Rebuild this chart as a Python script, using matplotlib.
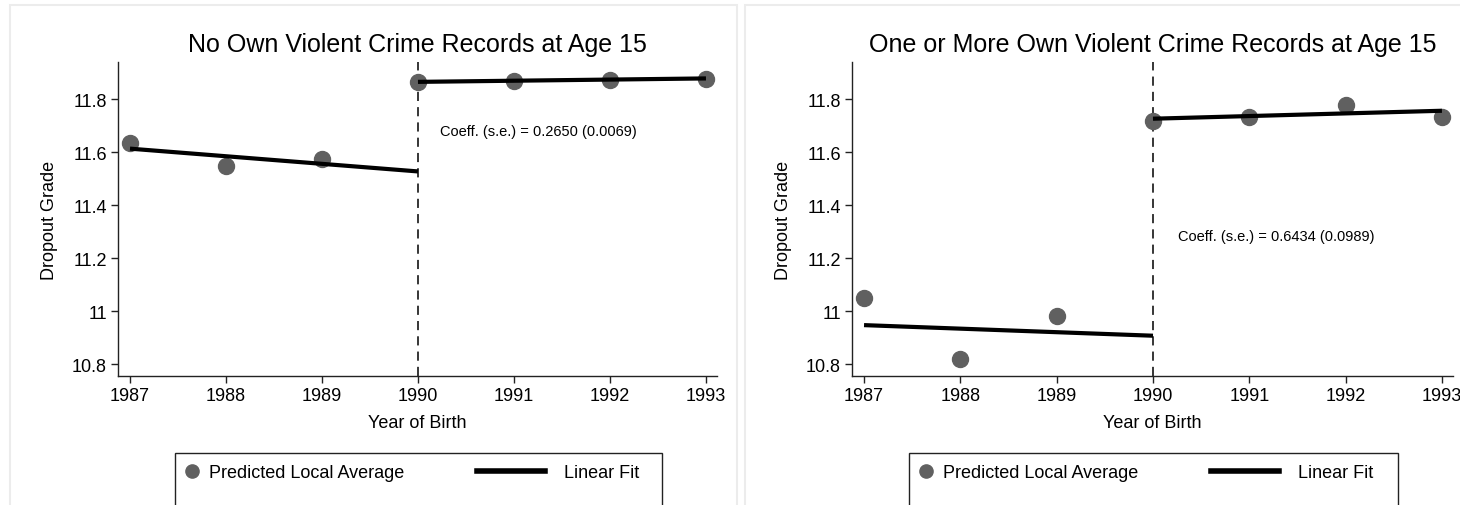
import matplotlib
matplotlib.use("Agg")
import matplotlib.pyplot as plt
from matplotlib.lines import Line2D
from matplotlib.patches import Rectangle
from matplotlib.ticker import FuncFormatter

plt.rcParams['font.family'] = ['Liberation Sans', 'DejaVu Sans']

# ---- data ----
years = [1987, 1988, 1989, 1990, 1991, 1992, 1993]
cutoff = 1990
titles = ["No Own Violent Crime Records at Age 15",
          "One or More Own Violent Crime Records at Age 15"]
local_avg_no = [11.633, 11.546, 11.574, 11.863, 11.869, 11.873, 11.876]
local_avg_yes = [11.048, 10.819, 10.982, 11.716, 11.731, 11.779, 11.733]
fit_pre_x = [1987, 1990]
fit_post_x = [1990, 1993]
fit_pre_no = [11.613, 11.527]
fit_post_no = [11.865, 11.878]
fit_pre_yes = [10.947, 10.907]
fit_post_yes = [11.726, 11.756]
coef_labels = ["Coeff. (s.e.) = 0.2650 (0.0069)",
               "Coeff. (s.e.) = 0.6434 (0.0989)"]
coef_pos = [(1990.23, 11.68), (1990.26, 11.284)]
yticks = [10.8, 11.0, 11.2, 11.4, 11.6, 11.8]
xticks = [1987, 1988, 1989, 1990, 1991, 1992, 1993]

W, H = 1460, 506
fig = plt.figure(figsize=(W / 100, H / 100), dpi=100)

# panel frames (light gray)
for (x0, x1) in [(10, 737), (745, 1475)]:
    fig.patches.append(Rectangle((x0 / W, -10 / H), (x1 - x0) / W, (H + 10 - 6) / H,
                                 transform=fig.transFigure, fill=False,
                                 edgecolor='#ececec', lw=1.5, zorder=0))

axes_px = [(118, 717), (852, 1453)]
ytop, ybot = 63, 377
panels = [(local_avg_no, fit_pre_no, fit_post_no),
          (local_avg_yes, fit_pre_yes, fit_post_yes)]

mcol = '#606060'


class MarkerRight:
    def legend_artist(self, legend, orig_handle, fontsize, handlebox):
        x0, y0 = handlebox.xdescent, handlebox.ydescent
        w, h = handlebox.width, handlebox.height
        ln = Line2D([x0 + w + 0.5], [y0 + h / 2], marker='o', ms=9.5, color=mcol,
                    linestyle='none', transform=handlebox.get_transform())
        handlebox.add_artist(ln)
        return ln


for i, (xl, xr) in enumerate(axes_px):
    ax = fig.add_axes([xl / W, 1 - ybot / H, (xr - xl) / W, (ybot - ytop) / H])
    avg, fpre, fpost = panels[i]
    ax.set_xlim(1986.875, 1993.115)
    ax.set_ylim(10.755, 11.94)
    ax.axvline(cutoff, color='black', lw=1.1, ls=(0, (6, 4)), zorder=1)
    ax.plot(years, avg, 'o', color=mcol, ms=11.5, zorder=2, clip_on=False)
    ax.plot(fit_pre_x, fpre, color='black', lw=3, zorder=3, solid_capstyle='butt')
    ax.plot(fit_post_x, fpost, color='black', lw=3, zorder=3, solid_capstyle='butt')
    for s in ['top', 'right']:
        ax.spines[s].set_visible(False)
    for s in ['left', 'bottom']:
        ax.spines[s].set_color('#222222')
        ax.spines[s].set_linewidth(1.0)
    ax.set_xticks(xticks)
    ax.set_yticks(yticks)
    ax.yaxis.set_major_formatter(FuncFormatter(lambda v, p: ('%g' % round(v, 1))))
    ax.tick_params(direction='out', length=5, width=1, color='#222222',
                   labelsize=13, pad=3)
    ax.set_xlabel('Year of Birth', fontsize=13, labelpad=7)
    ax.set_ylabel('Dropout Grade', fontsize=13, labelpad=10)
    ax.set_title(titles[i], fontsize=18, pad=8)
    ax.text(coef_pos[i][0], coef_pos[i][1], coef_labels[i], fontsize=10.5,
            ha='left', va='center')

    # legend box
    bx0 = (175 - 118) / 599
    bx1 = (662 - 118) / 599
    btop = (ybot - 454) / (ybot - ytop)
    ax.add_patch(Rectangle((bx0, btop - 1.0), bx1 - bx0, 1.0, transform=ax.transAxes,
                           fill=False, edgecolor='#222222', lw=1.0, clip_on=False))
    proxy_m = Line2D([], [], marker='o', color=mcol, linestyle='none')
    proxy_l = Line2D([], [], color='black', lw=4)
    ax.legend([proxy_m, proxy_l], ['Predicted Local Average', 'Linear Fit'],
              handler_map={proxy_m: MarkerRight()}, ncol=2, frameon=False,
              fontsize=13, handlelength=3.82, handletextpad=1.0,
              columnspacing=4.0, borderpad=0, borderaxespad=0,
              loc='center left',
              bbox_to_anchor=((122 - 118) / 599, (ybot - 474) / (ybot - ytop)))

fig.savefig('out.png', dpi=100)
